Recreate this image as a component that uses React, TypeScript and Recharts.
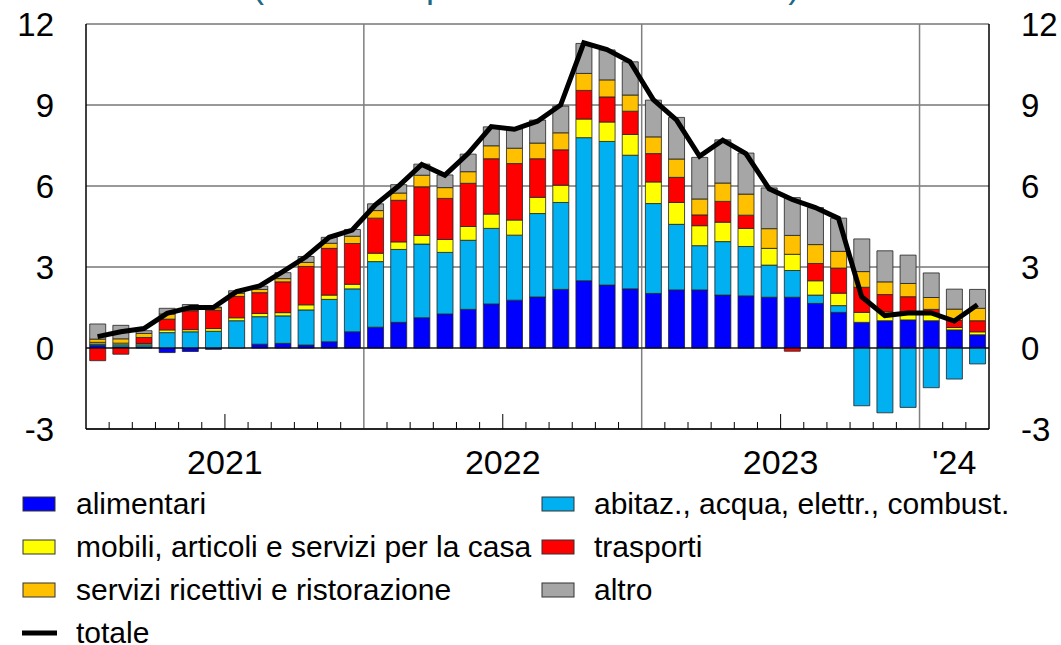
import React from "react";
import {
  ComposedChart,
  Bar,
  Line,
  XAxis,
  YAxis,
  CartesianGrid,
  ReferenceLine,
} from "recharts";

// monthly, Jan 2021 - Mar 2024
const months = [
  "gen 21", "feb 21", "mar 21", "apr 21", "mag 21", "giu 21", "lug 21", "ago 21", "set 21", "ott 21", "nov 21", "dic 21",
  "gen 22", "feb 22", "mar 22", "apr 22", "mag 22", "giu 22", "lug 22", "ago 22", "set 22", "ott 22", "nov 22", "dic 22",
  "gen 23", "feb 23", "mar 23", "apr 23", "mag 23", "giu 23", "lug 23", "ago 23", "set 23", "ott 23", "nov 23", "dic 23",
  "gen 24", "feb 24", "mar 24",
];

const alimentari = [
  0.1, 0.04, 0.04, -0.17, -0.13, -0.05, 0.0, 0.14, 0.17, 0.11, 0.23, 0.6,
  0.77, 0.95, 1.12, 1.26, 1.43, 1.63, 1.77, 1.89, 2.17, 2.49, 2.33, 2.19,
  2.02, 2.15, 2.15, 1.96, 1.93, 1.88, 1.88, 1.65, 1.32, 0.95, 1.01, 1.04,
  1.01, 0.67, 0.49,
];
const abitazione = [
  0.05, 0.08, 0.08, 0.57, 0.6, 0.62, 1.01, 1.02, 1.02, 1.3, 1.57, 1.59,
  2.43, 2.7, 2.73, 2.28, 2.56, 2.8, 2.41, 3.09, 3.22, 5.3, 5.32, 4.95,
  3.33, 2.43, 1.64, 1.98, 1.83, 1.19, 0.99, 0.31, 0.25, -2.14, -2.4, -2.2,
  -1.47, -1.15, -0.59,
];
const mobili = [
  0.06, 0.06, 0.05, 0.1, 0.08, 0.1, 0.11, 0.12, 0.12, 0.19, 0.16, 0.17,
  0.31, 0.28, 0.32, 0.48, 0.51, 0.53, 0.56, 0.6, 0.64, 0.69, 0.72, 0.77,
  0.8, 0.81, 0.74, 0.72, 0.67, 0.62, 0.6, 0.53, 0.46, 0.37, 0.33, 0.28,
  0.27, 0.09, 0.11,
];
const trasporti = [
  -0.47, -0.23, 0.22, 0.4, 0.7, 0.68, 0.79, 0.77, 1.14, 1.42, 1.73, 1.51,
  1.3, 1.54, 1.8, 1.52, 1.6, 2.05, 2.09, 1.43, 1.31, 1.06, 0.93, 0.86,
  1.05, 0.93, 0.4, 0.77, 0.49, 0, -0.12, 0.64, 0.93, 0.93, 0.64, 0.58,
  0.15, 0.26, 0.41,
];
const servizi = [
  0.12, 0.16, 0.15, 0.19, 0.03, 0.09, 0.12, 0.12, 0.12, 0.15, 0.19, 0.27,
  0.28, 0.27, 0.43, 0.4, 0.43, 0.48, 0.57, 0.58, 0.63, 0.63, 0.63, 0.6,
  0.62, 0.68, 0.59, 0.68, 0.78, 0.73, 0.7, 0.7, 0.62, 0.58, 0.47, 0.49,
  0.44, 0.42, 0.46,
];
const altro = [
  0.56, 0.5, 0.1, 0.21, 0.2, 0.03, 0.09, 0.12, 0.22, 0.22, 0.22, 0.25,
  0.25, 0.31, 0.41, 0.47, 0.65, 0.7, 0.72, 0.85, 0.99, 1.11, 1.11, 1.23,
  1.36, 1.54, 1.54, 1.6, 1.52, 1.51, 1.4, 1.37, 1.23, 1.21, 1.15, 1.05,
  0.91, 0.74, 0.7,
];
const totale = [
  0.42, 0.6, 0.72, 1.28, 1.5, 1.5, 2.09, 2.3, 2.83, 3.38, 4.1, 4.37,
  5.3, 6.0, 6.8, 6.4, 7.2, 8.2, 8.1, 8.4, 9.0, 11.3, 11.05, 10.6,
  9.2, 8.45, 7.1, 7.7, 7.2, 5.9, 5.5, 5.2, 4.8, 1.9, 1.2, 1.3,
  1.3, 1.0, 1.6,
];

const yTicks = [-3, 0, 3, 6, 9, 12];
// year label under the axis: "edge" = left edge of that month, "center" = middle of it
const yearLabels = [
  { month: "lug 21", label: "2021", at: "edge" },
  { month: "lug 22", label: "2022", at: "edge" },
  { month: "lug 23", label: "2023", at: "edge" },
  { month: "feb 24", label: "'24", at: "center" },
];
const yearStarts = ["gen 22", "gen 23", "gen 24"];
const midYears = ["lug 21", "lug 22", "lug 23"];

const series = [
  { key: "alimentari", name: "alimentari", color: "#0000ff", values: alimentari },
  { key: "abitazione", name: "abitaz., acqua, elettr., combust.", color: "#00b0f0", values: abitazione },
  { key: "mobili", name: "mobili, articoli e servizi per la casa", color: "#ffff00", values: mobili },
  { key: "trasporti", name: "trasporti", color: "#ff0000", values: trasporti },
  { key: "servizi", name: "servizi ricettivi e ristorazione", color: "#ffc000", values: servizi },
  { key: "altro", name: "altro", color: "#a6a6a6", values: altro },
];

const data = months.map((m, i) => {
  const row: Record<string, number | string> = { month: m, totale: totale[i] };
  series.forEach((s) => (row[s.key] = s.values[i]));
  return row;
});

const FONT = "'Liberation Sans', Arial, sans-serif";
const W = 1061;
const H = 490;
const LEFT_W = 86;
const RIGHT_W = 72;

const MonthTick = (props: any) => {
  const { x, y, payload, width, visibleTicksCount } = props;
  const band =
    width && visibleTicksCount ? width / visibleTicksCount : (W - LEFT_W - RIGHT_W) / months.length;
  const left = x - band / 2;
  const idx = payload.index ?? months.indexOf(payload.value);
  const m = payload.value;
  const yl = yearLabels.find((l) => l.month === m);
  const tall = midYears.includes(m);
  return (
    <g>
      {idx > 0 && !yearStarts.includes(m) && (
        <line x1={left} x2={left} y1={y} y2={y - (tall ? 15 : 7)} stroke="#000" strokeWidth={1} />
      )}
      {yl && (
        <text
          x={yl.at === "edge" ? left : x}
          y={y + 45}
          textAnchor="middle"
          fontSize={34}
          fontFamily={FONT}
          fill="#000"
        >
          {yl.label}
        </text>
      )}
    </g>
  );
};

const legendRows = [
  ["alimentari", "abitazione"],
  ["mobili", "trasporti"],
  ["servizi", "altro"],
];

export default function App() {
  return (
    <div style={{ position: "absolute", left: 0, top: 0, width: W, height: 645, background: "#fff" }}>
      <ComposedChart
        width={W}
        height={H}
        data={data}
        stackOffset="sign"
        barCategoryGap="16%"
        margin={{ top: 24, right: 0, bottom: 0, left: 0 }}
      >
        <CartesianGrid yAxisId="l" vertical={false} stroke="#333" strokeWidth={1} />
        <CartesianGrid
          yAxisId="l"
          horizontal={false}
          stroke="#7f7f7f"
          strokeWidth={1.5}
          verticalCoordinatesGenerator={({ offset }: any) =>
            yearStarts.map((m) => offset.left + (offset.width * months.indexOf(m)) / months.length)
          }
        />
        <XAxis
          dataKey="month"
          interval={0}
          height={H - 24 - 405}
          tickSize={0}
          tickMargin={0}
          tick={<MonthTick />}
          axisLine={{ stroke: "#000", strokeWidth: 1.5 }}
          tickLine={false}
        />
        <YAxis
          yAxisId="l"
          width={LEFT_W}
          domain={[-3, 12]}
          ticks={yTicks}
          allowDataOverflow
          tickSize={0}
          tickMargin={32}
          tickLine={false}
          axisLine={{ stroke: "#000", strokeWidth: 1.5 }}
          tick={{ fontSize: 33, fill: "#000", fontFamily: FONT }}
        />
        <YAxis
          yAxisId="r"
          orientation="right"
          width={RIGHT_W}
          domain={[-3, 12]}
          ticks={yTicks}
          allowDataOverflow
          tickSize={0}
          tickMargin={32}
          tickLine={false}
          axisLine={{ stroke: "#000", strokeWidth: 1.5 }}
          tick={{ fontSize: 33, fill: "#000", fontFamily: FONT, textAnchor: "start" }}
        />
        {series.map((s) => (
          <Bar
            key={s.key}
            yAxisId="l"
            dataKey={s.key}
            name={s.name}
            stackId="a"
            fill={s.color}
            stroke="#222"
            strokeWidth={0.8}
            isAnimationActive={false}
          />
        ))}
        <ReferenceLine yAxisId="l" y={0} stroke="#000" strokeWidth={1.2} />
        <Line
          yAxisId="l"
          type="linear"
          dataKey="totale"
          stroke="#000"
          strokeWidth={5}
          dot={false}
          activeDot={false}
          isAnimationActive={false}
        />
      </ComposedChart>

      <svg
        width={W}
        height={645}
        style={{ position: "absolute", left: 0, top: 0, pointerEvents: "none" }}
        fontFamily={FONT}
      >
        <text x={252} y={-3.5} fontSize={36} fill="#1d6a87">
          (variazioni percentuali e contributi)
        </text>
        {legendRows.map((row, r) =>
          row.map((key, c) => {
            const s = series.find((x) => x.key === key)!;
            const cy = 504 + r * 43;
            const sx = c === 0 ? 23 : 542;
            const tx = c === 0 ? 76 : 594;
            return (
              <g key={key}>
                <rect x={sx} y={cy - 7} width={32} height={14} fill={s.color} stroke="#333" strokeWidth={1} />
                <text x={tx} y={cy + 10} fontSize={30} fill="#000">
                  {s.name}
                </text>
              </g>
            );
          })
        )}
        <line x1={22} x2={57} y1={633} y2={633} stroke="#000" strokeWidth={5} />
        <text x={76} y={633 + 10} fontSize={30} fill="#000">
          totale
        </text>
      </svg>
    </div>
  );
}
